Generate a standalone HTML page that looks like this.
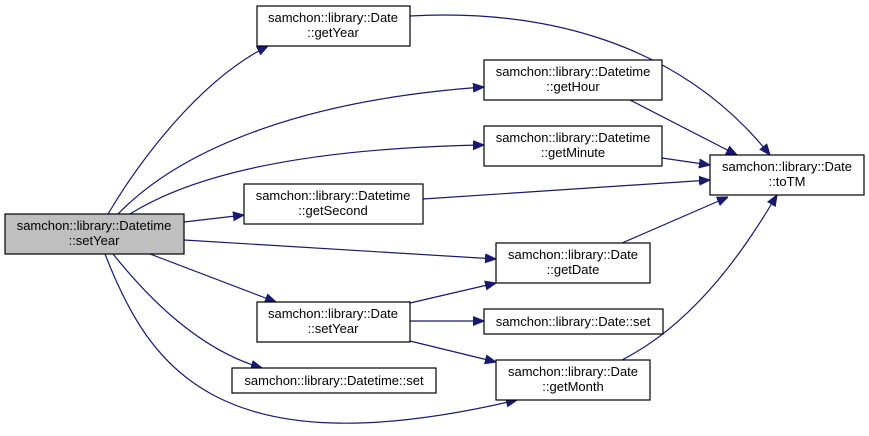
<!DOCTYPE html>
<html><head><meta charset="utf-8"><style>
html,body{margin:0;padding:0;background:#fff;}
svg{display:block;}
text{font-family:"Liberation Sans",Arial,sans-serif;font-size:13px;fill:#000;text-anchor:middle;}
.n{fill:#fff;stroke:#000;stroke-width:1.2;}
.e{fill:none;stroke:#191970;stroke-width:1.2;}
</style></head><body>
<svg width="869" height="436" viewBox="0 0 869 436" xmlns="http://www.w3.org/2000/svg">
<defs><marker id="a" viewBox="0 0 10 10" refX="10" refY="5" markerWidth="11" markerHeight="11" markerUnits="userSpaceOnUse" orient="auto"><path d="M0,1 L10,5 L0,9 z" fill="#191970" stroke="#191970"/></marker></defs>
<path class="e" marker-end="url(#a)" d="M108,214 C140,160 200,80 268,46"/>
<path class="e" marker-end="url(#a)" d="M118,214 C180,150 300,100 484,87"/>
<path class="e" marker-end="url(#a)" d="M130,214 C200,170 320,148 484,145"/>
<path class="e" marker-end="url(#a)" d="M184,222 L244,215"/>
<path class="e" marker-end="url(#a)" d="M184,240 L496,259"/>
<path class="e" marker-end="url(#a)" d="M150,254 L276,302"/>
<path class="e" marker-end="url(#a)" d="M113,254 C150,300 200,350 262,368"/>
<path class="e" marker-end="url(#a)" d="M105,254 C150,370 220,470 517,400"/>
<path class="e" marker-end="url(#a)" d="M410,16 C520,10 670,30 770,155"/>
<path class="e" marker-end="url(#a)" d="M630,100 L737,155"/>
<path class="e" marker-end="url(#a)" d="M662,158 L710,165"/>
<path class="e" marker-end="url(#a)" d="M423,199 L710,180"/>
<path class="e" marker-end="url(#a)" d="M622,243 L728,197"/>
<path class="e" marker-end="url(#a)" d="M622,360 C700,320 750,240 777,195"/>
<path class="e" marker-end="url(#a)" d="M410,303 L496,283"/>
<path class="e" marker-end="url(#a)" d="M410,321 L484,321"/>
<path class="e" marker-end="url(#a)" d="M410,341 L496,362"/>
<rect x="5" y="214" width="179" height="40" fill="#bfbfbf" stroke="#000" stroke-width="1.2"/>
<text x="94" y="230">samchon::library::Datetime</text><text x="94" y="245">::setYear</text>
<rect class="n" x="257" y="6" width="153" height="40"/>
<text x="333" y="22">samchon::library::Date</text><text x="333" y="37">::getYear</text>
<rect class="n" x="484" y="60" width="178" height="40"/>
<text x="573" y="76">samchon::library::Datetime</text><text x="573" y="91">::getHour</text>
<rect class="n" x="484" y="126" width="178" height="40"/>
<text x="573" y="142">samchon::library::Datetime</text><text x="573" y="157">::getMinute</text>
<rect class="n" x="710" y="155" width="154" height="40"/>
<text x="787" y="171">samchon::library::Date</text><text x="787" y="186">::toTM</text>
<rect class="n" x="244" y="184" width="179" height="40"/>
<text x="333" y="200">samchon::library::Datetime</text><text x="333" y="215">::getSecond</text>
<rect class="n" x="496" y="243" width="154" height="40"/>
<text x="573" y="259">samchon::library::Date</text><text x="573" y="274">::getDate</text>
<rect class="n" x="257" y="302" width="153" height="40"/>
<text x="333" y="318">samchon::library::Date</text><text x="333" y="333">::setYear</text>
<rect class="n" x="484" y="309" width="179" height="25"/>
<text x="573" y="326">samchon::library::Date::set</text>
<rect class="n" x="232" y="368" width="204" height="25"/>
<text x="334" y="385">samchon::library::Datetime::set</text>
<rect class="n" x="496" y="360" width="154" height="40"/>
<text x="573" y="376">samchon::library::Date</text><text x="573" y="391">::getMonth</text>
</svg>
</body></html>
